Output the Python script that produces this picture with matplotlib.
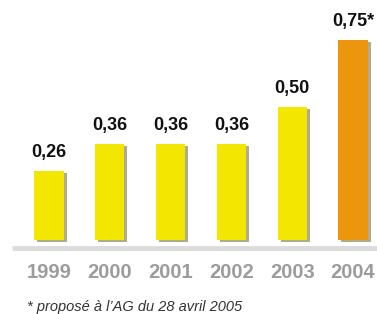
import matplotlib
matplotlib.use("Agg")
import matplotlib.pyplot as plt

# données
annees = ["1999", "2000", "2001", "2002", "2003", "2004"]
valeurs = [0.26, 0.36, 0.36, 0.36, 0.50, 0.75]
etiquettes = ["0,26", "0,36", "0,36", "0,36", "0,50", "0,75*"]
couleurs = ["#f3e600", "#f3e600", "#f3e600", "#f3e600", "#f3e600", "#ec960e"]
note = "* proposé à l\u2019AG du 28 avril 2005"

plt.rcParams['font.family'] = ['Liberation Sans', 'DejaVu Sans']

fig = plt.figure(figsize=(3.77, 3.14), dpi=100)
ax = fig.add_axes([0, 0, 1, 1])

# échelle : ~60.8 px par barre, ~267 px par unité
px_x = 60.8
px_y = 267.0
x0 = 49.0   # centre de la première barre (px)
y0 = 240.0  # ligne de base (px depuis le haut)
ax.set_xlim(-x0 / px_x, (377 - x0) / px_x)
ax.set_ylim(-(314 - y0) / px_y, y0 / px_y)

pos = list(range(len(annees)))
largeur = 0.48

# ombre
ax.bar([p + 3 / px_x for p in pos], valeurs, width=largeur,
       bottom=-2 / px_y, color="#6e6630", alpha=0.55, zorder=1)
# barres
ax.bar(pos, valeurs, width=largeur, color=couleurs, zorder=2)

# ligne de base grise
ax.plot([(12 - x0) / px_x, (377 - x0) / px_x], [-8 / px_y, -8 / px_y],
        color="#dcdcdc", lw=3.5, solid_capstyle="butt", zorder=0)

for p, v, t in zip(pos, valeurs, etiquettes):
    ax.text(p, v + 18 / px_y, t, ha="center", va="center",
            fontsize=13, fontweight="bold", color="#111111")

for p, a in zip(pos, annees):
    ax.text(p, -33 / px_y, a, ha="center", va="center",
            fontsize=14.5, fontweight="bold", color="#9c9c9c")

fig.text(27 / 377, 1 - 307 / 314, note, ha="left", va="center",
         fontsize=10.5, style="italic", color="#333333")

ax.axis("off")
fig.savefig("out.png", dpi=100)
